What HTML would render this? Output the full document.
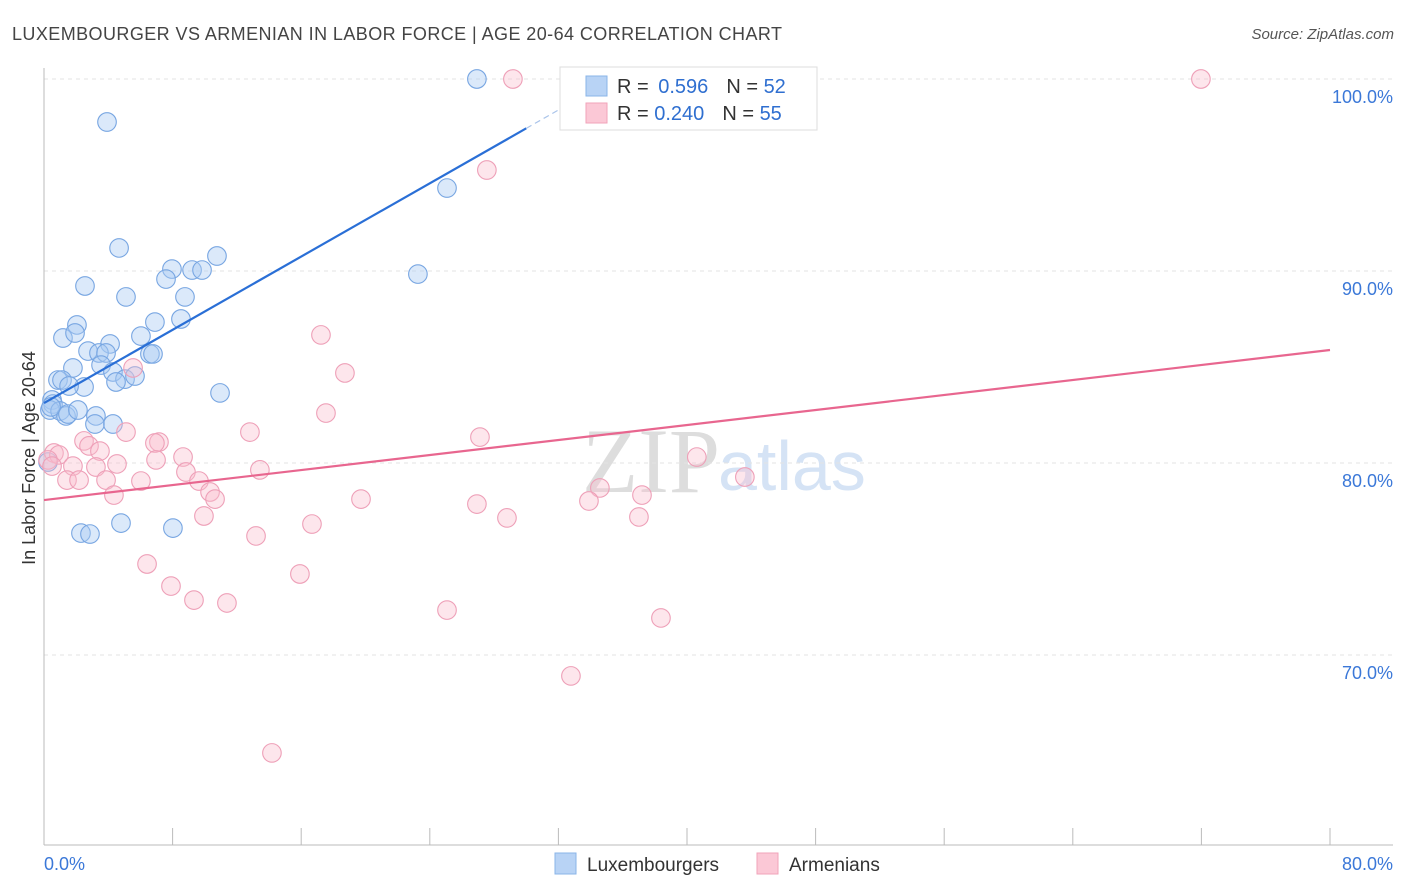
<!DOCTYPE html>
<html><head><meta charset="utf-8"><style>
body{margin:0;background:#fff;font-family:"Liberation Sans",sans-serif;}
svg{display:block}
</style></head><body>
<svg id="chart" width="1406" height="892">
<text x="12" y="40" font-size="18" fill="#444" textLength="770">LUXEMBOURGER VS ARMENIAN IN LABOR FORCE | AGE 20-64 CORRELATION CHART</text>
<text x="1394" y="39" font-size="15" fill="#555" text-anchor="end" font-style="italic">Source: ZipAtlas.com</text>
<text x="720" y="492" font-size="92" fill="#ddd" text-anchor="end" font-family="Liberation Serif,serif">ZIP</text>
<text x="718" y="490" font-size="70" fill="#d5e3f5">atlas</text>
<g id="grid"></g>
<g id="axes"></g>
<g id="points"></g>
<g id="trends"></g>
<text x="35" y="458" font-size="18" fill="#333" text-anchor="middle" transform="rotate(-90 35 458)">In Labor Force | Age 20-64</text>
<g>
<rect x="560" y="67" width="257" height="63" fill="#fff" stroke="#ddd"/>
<rect x="586" y="76" width="21" height="20" fill="#b8d3f5" stroke="#8ab4e8"/>
<rect x="586" y="103" width="21" height="20" fill="#fbc8d6" stroke="#f1a3ba"/>
<text x="617" y="93" font-size="20" fill="#333">R = <tspan fill="#2f6fd0" dx="4">0.596</tspan><tspan dx="18" fill="#333">N = </tspan><tspan fill="#2f6fd0">52</tspan></text>
<text x="617" y="120" font-size="20" fill="#333">R = <tspan fill="#2f6fd0">0.240</tspan><tspan dx="18" fill="#333">N = </tspan><tspan fill="#2f6fd0">55</tspan></text>
</g>
<g>
<rect x="555" y="853" width="21" height="21" fill="#b8d3f5" stroke="#8ab4e8"/>
<text x="587" y="871" font-size="19" fill="#333">Luxembourgers</text>
<rect x="757" y="853" width="21" height="21" fill="#fbc8d6" stroke="#f1a3ba"/>
<text x="789" y="871" font-size="19" fill="#333">Armenians</text>
</g>
</svg>
<script>
const blueX=[26.93,3.92,25.07,4.67,10.76,7.96,9.21,9.83,7.59,23.26,2.55,5.10,8.77,6.90,8.52,2.05,1.18,1.93,6.03,4.11,2.74,3.42,3.86,6.59,6.78,1.80,3.55,4.29,5.04,5.66,4.48,0.87,1.12,2.49,1.56,10.95,0.50,0.56,0.37,1.00,1.37,1.49,2.11,3.23,3.17,4.29,0.25,4.79,2.30,2.86,8.02,0.44];
const blueY=[100,97.76,94.32,91.2,90.78,90.1,90.05,90.05,89.58,89.84,89.22,88.65,88.65,87.34,87.5,87.19,86.51,86.77,86.61,86.2,85.83,85.73,85.73,85.68,85.68,84.95,85.1,84.74,84.37,84.53,84.22,84.32,84.32,83.96,84.01,83.65,83.28,83.07,82.76,82.71,82.45,82.55,82.76,82.45,82.03,82.03,80.05,76.87,76.35,76.3,76.61,82.92];
const pinkX=[29.17,71.97,27.55,17.23,18.72,5.54,17.54,5.10,12.81,27.12,2.49,2.80,7.15,6.90,3.48,8.65,0.62,0.93,0.25,0.50,1.80,3.23,4.54,6.97,40.61,13.43,8.83,9.64,1.43,2.18,3.86,6.03,10.33,10.64,4.35,19.72,34.58,37.20,33.9,43.6,26.93,28.80,37.01,9.95,16.67,13.19,6.41,15.92,7.90,9.33,11.38,25.07,38.38,32.78,14.18];
const pinkY=[100,100,95.26,86.67,84.69,84.95,82.6,81.61,81.61,81.35,81.15,80.89,81.09,81.04,80.62,80.31,80.52,80.42,80.16,79.84,79.84,79.79,79.95,80.16,80.31,79.64,79.53,79.06,79.11,79.11,79.11,79.06,78.49,78.12,78.33,78.12,78.7,78.33,78.02,79.27,77.86,77.14,77.19,77.24,76.82,76.2,74.74,74.22,73.59,72.86,72.71,72.34,71.93,68.91,64.9];
const yTicks=[100,90,80,70];
const xTickLabels=["0.0%","80.0%"];
const blueTrend=[83.12,0.477];
const pinkTrend=[78.07,0.0977];
const NS="http://www.w3.org/2000/svg";
const sx=v=>44+v*1286/80;
const sy=v=>79+(100-v)*19.2;
function mk(t,a,p){const e=document.createElementNS(NS,t);for(const k in a)e.setAttribute(k,a[k]);p.appendChild(e);return e;}
const grid=document.getElementById('grid'),axes=document.getElementById('axes'),pts=document.getElementById('points'),tr=document.getElementById('trends');
yTicks.forEach(v=>{
 const l=mk('line',{x1:44,x2:1393,y1:sy(v),y2:sy(v),stroke:'#e3e3e3','stroke-dasharray':'4,4'},grid);
 
 
 const t=mk('text',{x:1393,y:sy(v)+24,'font-size':18,fill:'#3b78d8','text-anchor':'end'},axes);
 t.textContent=v.toFixed(1)+'%';
 
 
});
const ax=mk('line',{x1:44,x2:44,y1:68,y2:845,stroke:'#bbb'},axes);


const bx=mk('line',{x1:44,x2:1393,y1:845,y2:845,stroke:'#bbb'},axes);


for(let i=1;i<=10;i++){const l=mk('line',{x1:sx(i*8),x2:sx(i*8),y1:828,y2:845,stroke:'#bbb'},axes);
 
 }
const t0=mk('text',{x:44,y:870,'font-size':18,fill:'#3b78d8'},axes);t0.textContent=xTickLabels[0];


const t1=mk('text',{x:1393,y:870,'font-size':18,fill:'#3b78d8','text-anchor':'end'},axes);t1.textContent=xTickLabels[1];


blueX.forEach((x,i)=>{const c=mk('circle',{cx:sx(x),cy:sy(blueY[i]),r:9.3,fill:'rgba(170,202,242,0.42)',stroke:'#78a6e2','stroke-width':1.1},pts);
 
 });
pinkX.forEach((x,i)=>{const c=mk('circle',{cx:sx(x),cy:sy(pinkY[i]),r:9.3,fill:'rgba(249,188,206,0.38)',stroke:'#eea0b8','stroke-width':1.1},pts);
 
 });
const bl=mk('line',{x1:sx(0),y1:sy(blueTrend[0]),x2:sx(30),y2:sy(blueTrend[0]+blueTrend[1]*30),stroke:'#2a6fd6','stroke-width':2.2},tr);


const bd=mk('line',{x1:sx(30),y1:sy(blueTrend[0]+blueTrend[1]*30),x2:sx(33.4),y2:sy(blueTrend[0]+blueTrend[1]*33.4),stroke:'#aac4ea','stroke-width':1.2,'stroke-dasharray':'6,4'},tr);


const pl=mk('line',{x1:sx(0),y1:sy(pinkTrend[0]),x2:sx(80),y2:sy(pinkTrend[0]+pinkTrend[1]*80),stroke:'#e8668f','stroke-width':2.2},tr);


</script>
</body></html>
